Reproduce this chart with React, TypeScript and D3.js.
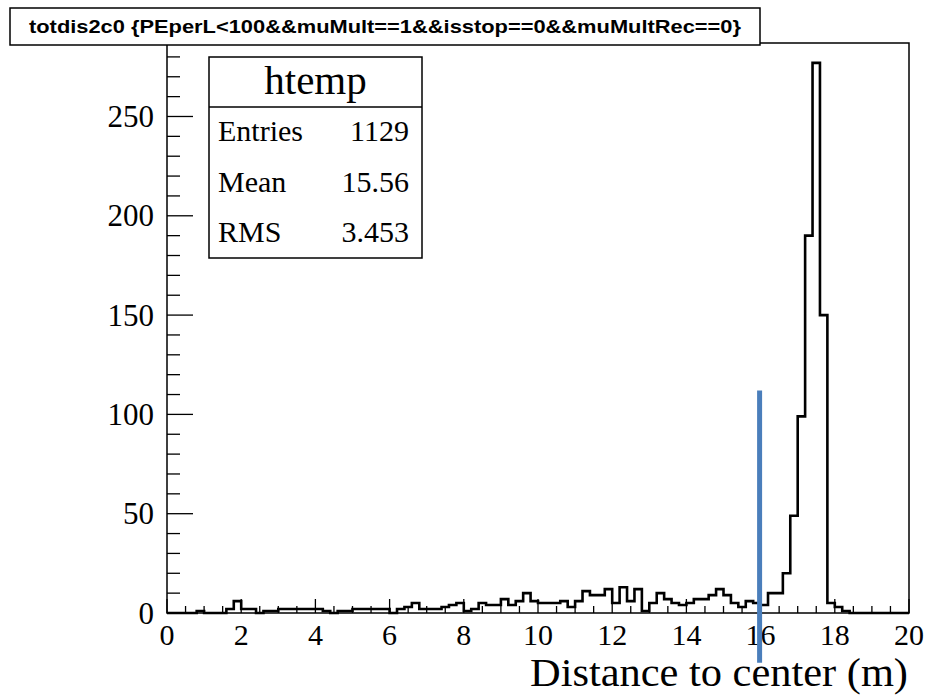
import React from "react";
import * as d3 from "d3";

// ---- data ----
const binLow = 0;
const binHigh = 20;
const counts: number[] = [
  0, 0, 0, 0, 1, 0, 0, 0, 2, 6,
  2, 2, 0, 1, 1, 2, 2, 2, 2, 2,
  2, 1, 0, 1, 1, 2, 2, 2, 2, 2,
  0, 2, 3, 5, 2, 2, 2, 3, 4, 5,
  1, 2, 5, 4, 4, 7, 4, 6, 10, 6,
  5, 5, 5, 6, 3, 6, 11, 9, 9, 12,
  5, 13, 6, 12, 1, 5, 10, 7, 5, 4,
  5, 7, 7, 9, 12, 9, 5, 3, 6, 5,
  4, 10, 10, 20, 49, 99, 190, 277, 150, 5,
  3, 1, 0, 0, 0, 0, 0, 0, 0, 0,
];
const xMajorTicks = [0, 2, 4, 6, 8, 10, 12, 14, 16, 18, 20];
const yMajorTicks = [0, 50, 100, 150, 200, 250];
const yMax = 287;
const titleText = "totdis2c0 {PEperL<100&&muMult==1&&isstop==0&&muMultRec==0}";
const statsName = "htemp";
const statsLabels = ["Entries", "Mean", "RMS"];
const statsValues = ["1129", "15.56", "3.453"];
const xTitle = "Distance to center (m)";
const markerX = 16;
const markerTop = 112;
const markerBottom = -25;

export default function App() {
  const W = 929, H = 697;
  const left = 167, right = 909, top = 43, bottom = 613;
  const x = d3.scaleLinear().domain([binLow, binHigh]).range([left, right]);
  const y = d3.scaleLinear().domain([0, yMax]).range([bottom, top]);
  const bw = (binHigh - binLow) / counts.length;

  const pts: [number, number][] = [[binLow, 0]];
  counts.forEach((c, i) => {
    pts.push([binLow + i * bw, c]);
    pts.push([binLow + (i + 1) * bw, c]);
  });
  pts.push([binHigh, 0]);
  const line = d3.line<[number, number]>().x(d => x(d[0])).y(d => y(d[1]));

  const xMinor = d3.range(binLow, binHigh + 0.001, 0.5);
  const yMinor = d3.range(0, yMax, 10);

  const serif = "'Liberation Serif', 'DejaVu Serif', serif";
  const sans = "'Liberation Sans', Arial, sans-serif";

  // stats box
  const sbL = 209, sbR = 422, sbT = 57, sbDiv = 107, sbB = 258;

  return (
    <svg width={W} height={H} style={{ position: "absolute", left: 0, top: 0, background: "#fff" }}>
      <rect x={0} y={0} width={W} height={H} fill="#fff" />
      {/* frame */}
      <rect x={left} y={top} width={right - left} height={bottom - top} fill="none" stroke="#000" strokeWidth={1.5} />
      {/* histogram */}
      <path d={line(pts) || ""} fill="none" stroke="#000" strokeWidth={2.6} strokeLinejoin="miter" />
      {/* x ticks */}
      {xMinor.map((t, i) => {
        const major = Math.abs(t / 2 - Math.round(t / 2)) < 1e-6;
        return <line key={"xm" + i} x1={x(t)} x2={x(t)} y1={bottom} y2={bottom - (major ? 14 : 7)} stroke="#000" strokeWidth={1.3} />;
      })}
      {xMajorTicks.map(t => (
        <text key={"xl" + t} x={x(t)} y={645} textAnchor="middle" fontFamily={serif} fontSize={30} fill="#000">{t}</text>
      ))}
      {/* y ticks */}
      {yMinor.map((t, i) => {
        const major = t % 50 === 0;
        return <line key={"ym" + i} x1={left} x2={left + (major ? 26 : 13)} y1={y(t)} y2={y(t)} stroke="#000" strokeWidth={1.3} />;
      })}
      {yMajorTicks.map(t => (
        <text key={"yl" + t} x={154} y={y(t)} dy="0.34em" textAnchor="end" fontFamily={serif} fontSize={31} fill="#000">{t}</text>
      ))}
      {/* x title */}
      <text x={908} y={686} textAnchor="end" fontFamily={serif} fontSize={40} textLength={378} lengthAdjust="spacingAndGlyphs" fill="#000">{xTitle}</text>
      {/* title box */}
      <rect x={10} y={8} width={750} height={37} fill="#fff" stroke="#000" strokeWidth={1.5} />
      <text x={385} y={33} textAnchor="middle" fontFamily={sans} fontWeight="bold" fontSize={19} textLength={712} lengthAdjust="spacingAndGlyphs" fill="#000">{titleText}</text>
      {/* stats box */}
      <rect x={sbL} y={sbT} width={sbR - sbL} height={sbB - sbT} fill="#fff" stroke="#000" strokeWidth={1.5} />
      <line x1={sbL} x2={sbR} y1={sbDiv} y2={sbDiv} stroke="#000" strokeWidth={1.5} />
      <text x={(sbL + sbR) / 2} y={94} textAnchor="middle" fontFamily={serif} fontSize={41} fill="#000">{statsName}</text>
      {statsLabels.map((l, i) => (
        <g key={l}>
          <text x={218} y={141 + i * 50.5} fontFamily={serif} fontSize={30} fill="#000">{l}</text>
          <text x={409} y={141 + i * 50.5} textAnchor="end" fontFamily={serif} fontSize={30} fill="#000">{statsValues[i]}</text>
        </g>
      ))}
      {/* blue marker line */}
      <line x1={x(markerX) - 1} x2={x(markerX) - 1} y1={y(markerTop)} y2={y(markerBottom)} stroke="#4a7ebb" strokeWidth={5} />
    </svg>
  );
}
